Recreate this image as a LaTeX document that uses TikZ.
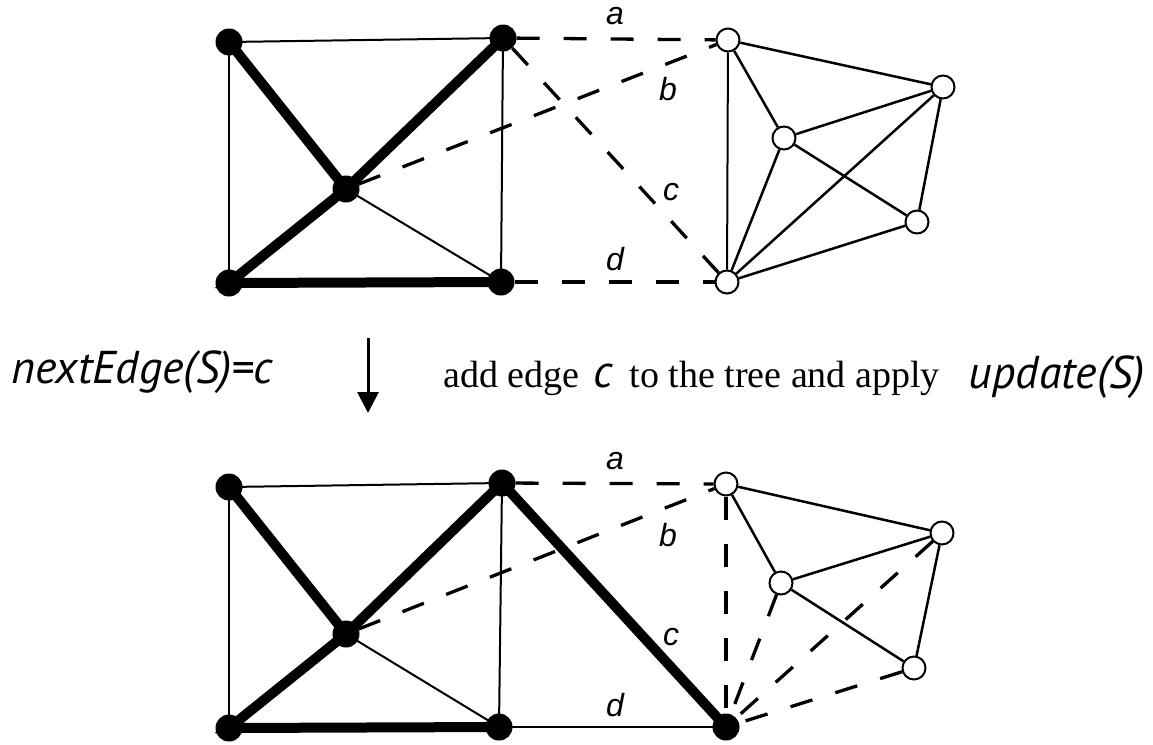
\documentclass[tikz,border=0pt]{standalone}
\usepackage{fontspec}
\setmainfont{Liberation Serif}
\newfontfamily\lblfont{Liberation Sans}
\newfontfamily\condfont{PT Sans}
\usetikzlibrary{arrows.meta,backgrounds}
\begin{document}
\begin{tikzpicture}[x=1pt,y=-1pt,
  fv/.style={circle,fill=black,draw=none,minimum size=27pt,inner sep=0pt},
  ov/.style={circle,fill=white,draw=black,line width=2pt,minimum size=23pt,inner sep=0pt},
  thin edge/.style={line width=2pt},
  rg edge/.style={line width=2.5pt},
  thick edge/.style={line width=10pt,line cap=round},
  dash edge/.style={line width=3.3pt,dash pattern=on 23pt off 24pt},
  lbl/.style={font=\lblfont\itshape\fontsize{32}{32}\selectfont,inner sep=0pt},
  cond/.style={font=\condfont\itshape\fontsize{46}{46}\selectfont,inner sep=0pt}]
\useasboundingbox (0,0) rectangle (1153,744);

% ---------- top graph ----------
\node[fv] (tTL) at (229,42) {};
\node[fv] (tTR) at (503,38) {};
\node[fv] (tM) at (346,189) {};
\node[fv] (tBL) at (229,283) {};
\node[fv] (tBR) at (501,282) {};
\node[ov] (tR1) at (728,40) {};
\node[ov] (tR2) at (784,138) {};
\node[ov] (tR3) at (943,87) {};
\node[ov] (tR4) at (917,222) {};
\node[ov] (tR5) at (727,282) {};

% ---------- bottom graph ----------
\node[fv] (bTL) at (229,487) {};
\node[fv] (bTR) at (502,483) {};
\node[fv] (bM) at (346,634) {};
\node[fv] (bBL) at (229,728) {};
\node[fv] (bBR) at (499,727) {};
\node[fv] (bR5) at (726,727) {};
\node[ov] (bR1) at (726,484) {};
\node[ov] (bR2) at (781,583) {};
\node[ov] (bR3) at (942,533) {};
\node[ov] (bR4) at (914,668) {};

\begin{scope}[on background layer]
% top edges
\draw[thin edge] (tTL.center) -- (tTR.center) -- (tBR.center);
\draw[thin edge] (tTL.center) -- (tBL.center);
\draw[thin edge] (tM.center) -- (tBR.center);
\draw[thick edge] (tTL.center) -- (tM.center) -- (tTR.center);
\draw[thick edge] (tM.center) -- (tBL.center) -- (tBR.center);
\draw[dash edge] (tTR) -- (tR1);
\draw[dash edge] (tM) -- (tR1);
\draw[dash edge] (tTR) -- (tR5);
\draw[dash edge] (tBR) -- (tR5);
\draw[thin edge] (tR1) -- (tR5);
\draw[rg edge] (tR1) -- (tR2);
\draw[rg edge] (tR1) -- (tR3);
\draw[rg edge] (tR2) -- (tR3);
\draw[rg edge] (tR2) -- (tR4);
\draw[rg edge] (tR2) -- (tR5);
\draw[rg edge] (tR3) -- (tR5);
\draw[rg edge] (tR3) -- (tR4);
\draw[rg edge] (tR4) -- (tR5);

% bottom edges
\draw[thin edge] (bTL.center) -- (bTR.center) -- (bBR.center);
\draw[thin edge] (bTL.center) -- (bBL.center);
\draw[thin edge] (bM.center) -- (bBR.center);
\draw[thin edge] (bBR.center) -- (bR5.center);
\draw[thick edge] (bTL.center) -- (bM.center) -- (bTR.center);
\draw[thick edge] (bM.center) -- (bBL.center) -- (bBR.center);
\draw[thick edge] (bTR.center) -- (bR5.center);
\draw[dash edge] (bTR) -- (bR1);
\draw[dash edge] (bM) -- (bR1);
\draw[dash edge] (bR1) -- (bR5);
\draw[dash edge] (bR2) -- (bR5);
\draw[dash edge] (bR3) -- (bR5);
\draw[dash edge] (bR4) -- (bR5);
\draw[rg edge] (bR1) -- (bR2);
\draw[rg edge] (bR1) -- (bR3);
\draw[rg edge] (bR2) -- (bR3);
\draw[rg edge] (bR2) -- (bR4);
\draw[rg edge] (bR3) -- (bR4);
\end{scope}

% edge labels
\node[lbl] (la1) at (615,16) {a};
\node[lbl] (lb1) at (668,89) {b};
\node[lbl] (lc1) at (671,192) {c};
\node[lbl] (ld1) at (615,259) {d};
\node[lbl] (la2) at (615,461) {a};
\node[lbl] (lb2) at (668,535) {b};
\node[lbl] (lc2) at (671,637) {c};
\node[lbl] (ld2) at (615,705) {d};

% middle row
\node[cond,anchor=base west] (ne) at (11,383) {nextEdge(S)=c};
\coordinate (arS) at (368,338);
\coordinate (arE) at (368,413);
\draw[line width=3pt,-{Triangle[width=21pt,length=21pt]}] (arS) -- (arE);
\node[anchor=base west,inner sep=0pt,font=\fontsize{38}{38}\selectfont] (tx) at (443,387)
  {add edge\hspace{14pt}{\condfont\itshape\fontsize{46}{46}\selectfont c}\hspace{17pt}to the tree and apply};
\node[cond,anchor=base east] (up) at (1145,388) {update(S)};
\end{tikzpicture}
\end{document}
